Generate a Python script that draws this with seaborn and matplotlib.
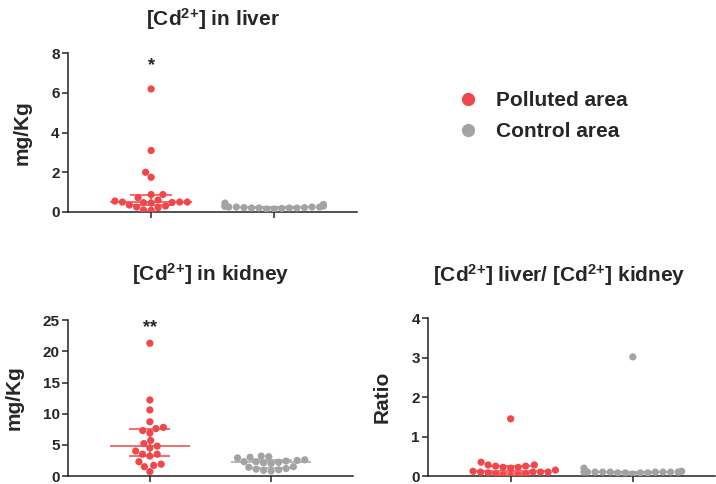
import numpy as np
import pandas as pd
import matplotlib
matplotlib.use('Agg')
import matplotlib.pyplot as plt
from matplotlib.lines import Line2D
import seaborn as sns

sns.set_style('ticks')
plt.rcParams['font.family'] = ['Liberation Sans', 'DejaVu Sans']
plt.rcParams['font.weight'] = 'bold'
plt.rcParams['mathtext.fontset'] = 'custom'
plt.rcParams['mathtext.rm'] = 'Liberation Sans:bold'
plt.rcParams['mathtext.bf'] = 'Liberation Sans:bold'
plt.rcParams['mathtext.it'] = 'Liberation Sans:bold'

RED = '#F0474A'
GREY = '#A3A3A5'
groups = ['Polluted area', 'Control area']

# ---- data ----
liver_polluted = [6.2, 3.1, 2.0, 1.75, 0.88, 0.88, 0.72, 0.6, 0.55, 0.5, 0.5,
                  0.5, 0.48, 0.47, 0.45, 0.35, 0.3, 0.25, 0.22, 0.1, 0.08]
liver_control = [0.25, 0.32, 0.3, 0.28, 0.2, 0.15, 0.22, 0.25, 0.18, 0.2,
                 0.38, 0.22, 0.25, 0.2, 0.15, 0.45, 0.25, 0.2]

kidney_polluted = [21.3, 12.2, 10.6, 8.7, 7.8, 7.6, 7.3, 6.9, 5.7, 5.2, 4.8,
                   4.5, 4.0, 3.5, 3.5, 3.2, 2.3, 1.9, 1.7, 1.5, 0.7]
kidney_control = [3.2, 2.9, 3.1, 3.0, 2.6, 2.5, 2.3, 2.2, 2.1, 2.0, 2.3, 2.4,
                  1.5, 1.4, 1.2, 1.1, 0.9, 0.8, 1.0]

ratio_polluted = [1.45, 0.35, 0.28, 0.28, 0.25, 0.25, 0.22, 0.2, 0.15, 0.12,
                  0.1, 0.1, 0.1, 0.08, 0.05, 0.05, 0.02, 0.02, 0.0, 0.22, 0.1]
ratio_control = [3.02, 0.2, 0.12, 0.1, 0.1, 0.1, 0.08, 0.08, 0.1, 0.05, 0.08,
                 0.1, 0.1, 0.1, 0.08, 0.1, 0.1]

CD = r'[Cd$^{\mathbf{2{+}}}$]'


def make_df(pol, ctl):
    return pd.DataFrame({
        'group': [groups[0]] * len(pol) + [groups[1]] * len(ctl),
        'value': list(pol) + list(ctl),
    })


def panel(ax, pol, ctl, title, ylabel, ymax, yticks, star=None, star_y=None,
          pad=20, title_x=0.5):
    df = make_df(pol, ctl)
    sns.swarmplot(data=df, x='group', y='value', hue='group',
                  palette={groups[0]: RED, groups[1]: GREY},
                  size=5.2, linewidth=0, order=groups, legend=False, ax=ax,
                  warn_thresh=1)
    # median with interquartile range
    for i, (vals, c) in enumerate([(pol, RED), (ctl, GREY)]):
        q1, med, q3 = np.percentile(vals, [25, 50, 75])
        ax.hlines(med, i - 0.33, i + 0.33, color=c, lw=1.3, zorder=1, alpha=0.85)
        ax.hlines([q1, q3], i - 0.17, i + 0.17, color=c, lw=1.3, zorder=1, alpha=0.85)
        ax.vlines(i, q1, q3, color=c, lw=1.3, zorder=1, alpha=0.85)
    ax.set_xlim(-0.675, 1.675)
    ax.set_ylim(0, ymax)
    ax.set_yticks(yticks)
    ax.set_xticks([0, 1])
    ax.set_xticklabels([])
    ax.set_xlabel('')
    ax.set_ylabel(ylabel, fontsize=15, fontweight='bold', labelpad=14)
    ax.set_title(title, fontsize=15, fontweight='bold', pad=pad, x=title_x)
    ax.tick_params(axis='y', labelsize=11, length=4, width=1.1, pad=2)
    ax.tick_params(axis='x', length=4, width=1.1)
    for lab in ax.get_yticklabels():
        lab.set_fontweight('bold')
    sns.despine(ax=ax)
    for s in ['left', 'bottom']:
        ax.spines[s].set_linewidth(1.1)
        ax.spines[s].set_color('#222222')
    if star:
        ax.text(0, star_y, star, ha='center', va='center', fontsize=13, fontweight='bold')


fig = plt.figure(figsize=(7.16, 4.84), dpi=100)
ax1 = fig.add_axes([0.095, 0.562, 0.404, 0.328])
ax2 = fig.add_axes([0.095, 0.0165, 0.398, 0.322])
ax3 = fig.add_axes([0.598, 0.0165, 0.401, 0.326])

panel(ax1, liver_polluted, liver_control, CD + ' in liver', 'mg/Kg',
      8, [0, 2, 4, 6, 8], '*', 7.4, pad=20)
panel(ax2, kidney_polluted, kidney_control, CD + ' in kidney', 'mg/Kg',
      25, [0, 5, 10, 15, 20, 25], '**', 23.8, pad=28)
panel(ax3, ratio_polluted, ratio_control, CD + ' liver/ ' + CD + ' kidney', 'Ratio',
      4, [0, 1, 2, 3, 4], pad=26, title_x=0.455)

handles = [Line2D([], [], marker='o', ls='', color=RED, markersize=8.5),
           Line2D([], [], marker='o', ls='', color=GREY, markersize=8.5)]
fig.legend(handles, groups, loc='center left', bbox_to_anchor=(0.613, 0.76),
           frameon=False, prop={'size': 15, 'weight': 'bold'},
           labelspacing=0.55, handletextpad=0.85, handlelength=1.0)

fig.savefig('out.png', dpi=100)
